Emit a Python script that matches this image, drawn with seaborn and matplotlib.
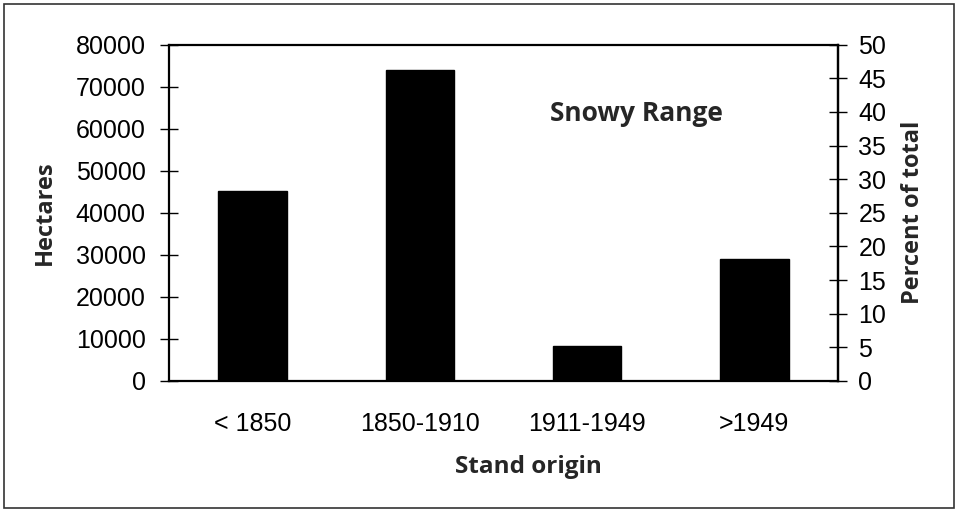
import matplotlib
matplotlib.use("Agg")
import matplotlib.pyplot as plt
import seaborn as sns
import pandas as pd
from matplotlib.patches import Rectangle

# ---- data ----
categories = ["< 1850", "1850-1910", "1911-1949", ">1949"]
hectares = [45300, 74100, 8300, 29000]
left_ticks = [0, 10000, 20000, 30000, 40000, 50000, 60000, 70000, 80000]
right_ticks = [0, 5, 10, 15, 20, 25, 30, 35, 40, 45, 50]
title_text = "Snowy Range"
x_label = "Stand origin"
y_label = "Hectares"
y2_label = "Percent of total"

sns.set_style("white")
plt.rcParams["font.family"] = ["Liberation Sans", "DejaVu Sans"]

df = pd.DataFrame({"origin": categories, "hectares": hectares})

fig = plt.figure(figsize=(9.58, 5.12), dpi=100)
ax = fig.add_axes([169 / 958, 1 - 381 / 512, (838 - 169) / 958, (381 - 44.7) / 512])

sns.barplot(data=df, x="origin", y="hectares", order=categories, color="black",
            edgecolor="black", width=0.41, saturation=1, ax=ax)

ax.set_xlim(-0.5, len(categories) - 0.5)
ax.set_ylim(0, 80000)
ax.set_yticks(left_ticks)
ax.set_yticklabels([str(v) for v in left_ticks])

# x: labels at centres, ticks at boundaries
ax.set_xticks(range(len(categories)))
ax.set_xticklabels(categories)
ax.set_xticks([i - 0.5 for i in range(len(categories) + 1)], minor=True)
ax.tick_params(axis="x", which="major", length=0, pad=22, labelsize=18, colors="black")
ax.tick_params(axis="x", which="minor", direction="inout", length=13, width=1, color="black")
ax.tick_params(axis="y", direction="inout", length=13.5, width=1, pad=10, labelsize=18,
               colors="black", left=True)

for s in ax.spines.values():
    s.set_visible(True)
    s.set_color("black")
    s.set_linewidth(1.6)

bold_font = dict(family=["Open Sans", "DejaVu Sans"], weight="bold")
ax.set_xlabel(x_label, fontsize=17.5, va="center", **bold_font)
ax.xaxis.set_label_coords(0.537, -0.256)
ax.set_ylabel(y_label, fontsize=17, va="center", **bold_font)
ax.yaxis.set_label_coords((45 - 169) / 669, 0.5)

ax2 = ax.twinx()
ax2.set_ylim(0, 50)
ax2.set_yticks(right_ticks)
ax2.set_yticklabels([str(v) for v in right_ticks])
ax2.tick_params(axis="y", direction="inout", length=12.5, width=1, pad=8.5, labelsize=18,
                colors="black", right=True)
for s in ax2.spines.values():
    s.set_visible(False)
ax2.spines["right"].set_visible(True)
ax2.spines["right"].set_color("black")
ax2.spines["right"].set_linewidth(1.6)
ax2.set_ylabel(y2_label, fontsize=17, va="center", rotation=90, **bold_font)
ax2.yaxis.set_label_coords((913 - 169) / 669, 0.5)

ax.text(0.698, 0.774, title_text, transform=ax.transAxes, ha="center", va="baseline",
        fontsize=19, **bold_font)

# outer border of the chart area
fig.patches.append(Rectangle((4 / 958, 4 / 512), 950 / 958, 504 / 512, transform=fig.transFigure,
                             fill=False, edgecolor="#333333", linewidth=1.2))

fig.savefig("out.png", dpi=100)
